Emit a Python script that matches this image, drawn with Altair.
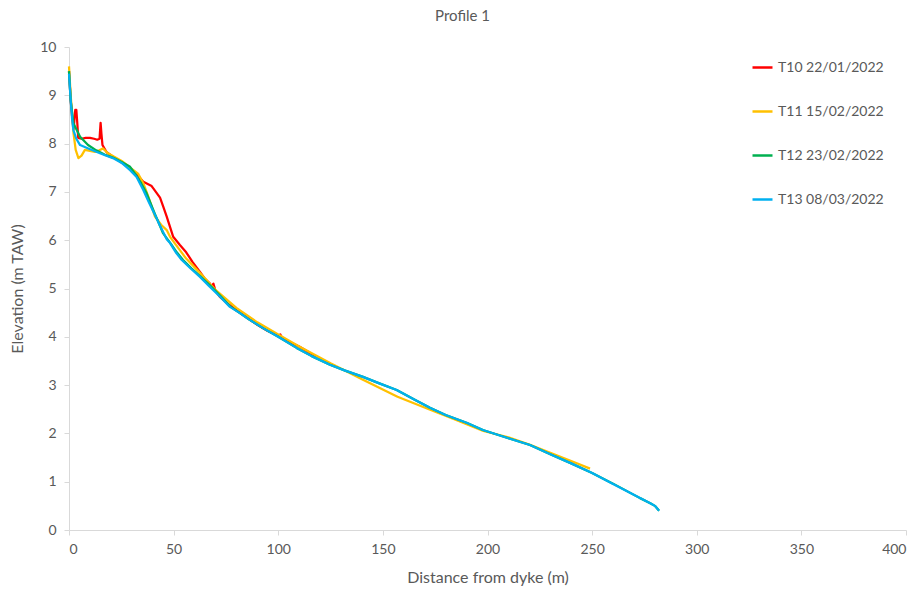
import altair as alt
import pandas as pd

# ---- data ----
series_names = ["T10 22/01/2022", "T11 15/02/2022", "T12 23/02/2022", "T13 08/03/2022"]
series_colors = ["#FF0000", "#FFC000", "#00B050", "#00B0F0"]

t10_x = [0, 0.8, 1.6, 2.2, 2.6, 3.0, 3.5, 4.0, 4.4, 6, 8, 10, 12, 13.5, 14.6, 15.1, 15.5, 16.0, 18, 22, 26, 29.2,
         32, 35.5, 39.5, 41.5, 43.5, 45, 46.7, 49.8, 53, 56, 59, 62.5, 65, 67, 68, 69, 70, 72, 76, 80, 85, 90,
         95, 100, 101, 102, 105, 110, 115, 118]
t10_y = [9.5, 8.9, 8.5, 8.3, 8.5, 8.7, 8.7, 8.4, 8.12, 8.1, 8.12, 8.12, 8.1, 8.08, 8.1, 8.43, 8.2, 7.97, 7.82,
         7.7, 7.58, 7.49, 7.38, 7.21, 7.12, 7.0, 6.88, 6.7, 6.49, 6.07, 5.9, 5.75, 5.55, 5.35, 5.2, 5.12, 5.05,
         5.1, 4.95, 4.83, 4.68, 4.55, 4.4, 4.25, 4.12, 4.02, 4.05, 3.96, 3.9, 3.8, 3.67, 3.6]

t11_x = [0, 0.8, 1.5, 2.2, 3.2, 4.5, 6, 7.6, 10, 12.4, 14.5, 16.2, 18.6, 22, 25.2, 29.2, 33, 35.5, 37.9, 41.1,
         44, 46.7, 48.3, 52, 56, 62, 70, 80, 90, 100, 110, 125, 140, 157, 172, 185, 198, 210, 220, 230, 240, 249]
t11_y = [9.6, 9.0, 8.6, 8.2, 7.87, 7.7, 7.75, 7.87, 7.85, 7.83, 7.86, 7.9, 7.8, 7.72, 7.64, 7.5, 7.38, 7.18,
         6.9, 6.49, 6.32, 6.21, 6.07, 5.85, 5.62, 5.35, 4.97, 4.6, 4.3, 4.05, 3.8, 3.45, 3.12, 2.76, 2.5, 2.28,
         2.05, 1.92, 1.77, 1.6, 1.43, 1.27]

t12_x = [0, 0.8, 2.1, 5.3, 9.1, 13, 17.2, 21, 25.2, 29.2, 32, 34.5, 37.1, 41, 45, 48.8, 51.5, 54.5, 58.5,
         63, 67.5, 72.5, 77, 81.7, 86, 92.7, 100, 108.8, 116, 124.7, 132, 140.5, 148, 156.6, 165, 172.5, 180,
         190, 197.8, 210, 220.3, 230, 240, 250, 260, 272.9, 278, 280, 281, 282]
t12_y = [9.5, 8.9, 8.42, 8.14, 7.97, 7.86, 7.77, 7.71, 7.62, 7.52, 7.35, 7.18, 6.97, 6.55, 6.14, 5.92,
         5.75, 5.59, 5.42, 5.24, 5.06, 4.84, 4.63, 4.49, 4.36, 4.18, 4.0, 3.77, 3.6, 3.42, 3.3, 3.17, 3.04, 2.9,
         2.7, 2.53, 2.38, 2.22, 2.07, 1.9, 1.76, 1.57, 1.38, 1.18, 0.96, 0.66, 0.55, 0.5, 0.45, 0.4]

t13_x = [0, 0.8, 1.5, 2.1, 3.5, 5.3, 9.2, 13, 17.2, 21, 25.2, 29.2, 32.3, 35.5, 38, 41.9, 43.5, 46.7, 48.3, 51,
         53.9, 58, 62.6, 67, 72.2, 76.9, 81.7, 86, 92.7, 100, 108.8, 116, 124.7, 132, 140.5, 148, 156.6, 165,
         172.5, 180, 190, 197.8, 210, 220.3, 230, 240, 250, 260, 272.9, 278, 280, 281, 282]
t13_y = [9.45, 8.9, 8.5, 8.28, 8.1, 7.97, 7.9, 7.83, 7.76, 7.7, 7.6, 7.45, 7.31, 7.04, 6.8, 6.45, 6.3, 6.02,
         5.94, 5.75, 5.59, 5.42, 5.24, 5.05, 4.83, 4.62, 4.49, 4.36, 4.18, 4.0, 3.77, 3.6, 3.42, 3.3, 3.17, 3.04,
         2.9, 2.7, 2.53, 2.38, 2.22, 2.07, 1.9, 1.76, 1.57, 1.38, 1.18, 0.95, 0.66, 0.55, 0.5, 0.45, 0.4]

x_ticks = [0, 50, 100, 150, 200, 250, 300, 350, 400]
y_ticks = [0, 1, 2, 3, 4, 5, 6, 7, 8, 9, 10]

rows = []
for name, xs, ys in zip(series_names, [t10_x, t11_x, t12_x, t13_x], [t10_y, t11_y, t12_y, t13_y]):
    for i, (xv, yv) in enumerate(zip(xs, ys)):
        rows.append({"series": name, "dist": xv, "elev": yv, "i": i})
df = pd.DataFrame(rows)

FONT = "Lato"
GREY = "#595959"
AXIS_GREY = "#D9D9D9"

chart = alt.Chart(df).mark_line(strokeWidth=2.25, strokeJoin="round").encode(
    x=alt.X("dist:Q", title="Distance from dyke (m)",
            scale=alt.Scale(domain=[0, 400], nice=False, zero=False),
            axis=alt.Axis(values=x_ticks, grid=False, domainColor=AXIS_GREY, tickColor=AXIS_GREY,
                          tickSize=5, labelColor=GREY, labelFontSize=14, labelFont=FONT,
                          titleColor=GREY, titleFontSize=16, titleFont=FONT, titleFontWeight="normal",
                          labelPadding=7, titlePadding=13)),
    y=alt.Y("elev:Q", title="Elevation (m TAW)",
            scale=alt.Scale(domain=[0, 10], nice=False, zero=False),
            axis=alt.Axis(values=y_ticks, grid=False, domainColor=AXIS_GREY, tickColor=AXIS_GREY,
                          tickSize=5, labelColor=GREY, labelFontSize=14, labelFont=FONT,
                          titleColor=GREY, titleFontSize=16, titleFont=FONT, titleFontWeight="normal",
                          labelPadding=8, titlePadding=14)),
    color=alt.Color("series:N", scale=alt.Scale(domain=series_names, range=series_colors),
                    legend=alt.Legend(title=None, orient="none", legendX=682, legendY=9,
                                      symbolType="stroke", symbolStrokeWidth=2.5, symbolSize=400,
                                      labelFontSize=14, labelFont=FONT, labelColor=GREY,
                                      rowPadding=25, labelOffset=4)),
    order="i:Q",
).properties(
    width=837,
    height=483,
    title=alt.TitleParams("Profile 1", fontSize=15, font=FONT, color=GREY, fontWeight="normal",
                          anchor="middle", dx=-25, offset=16),
    padding={"left": 69, "top": 47, "right": 17, "bottom": 69},
    autosize=alt.AutoSizeParams(type="none"),
).configure_view(stroke=None)

chart.save("out.html", embed_options={"renderer": "svg", "actions": False})
